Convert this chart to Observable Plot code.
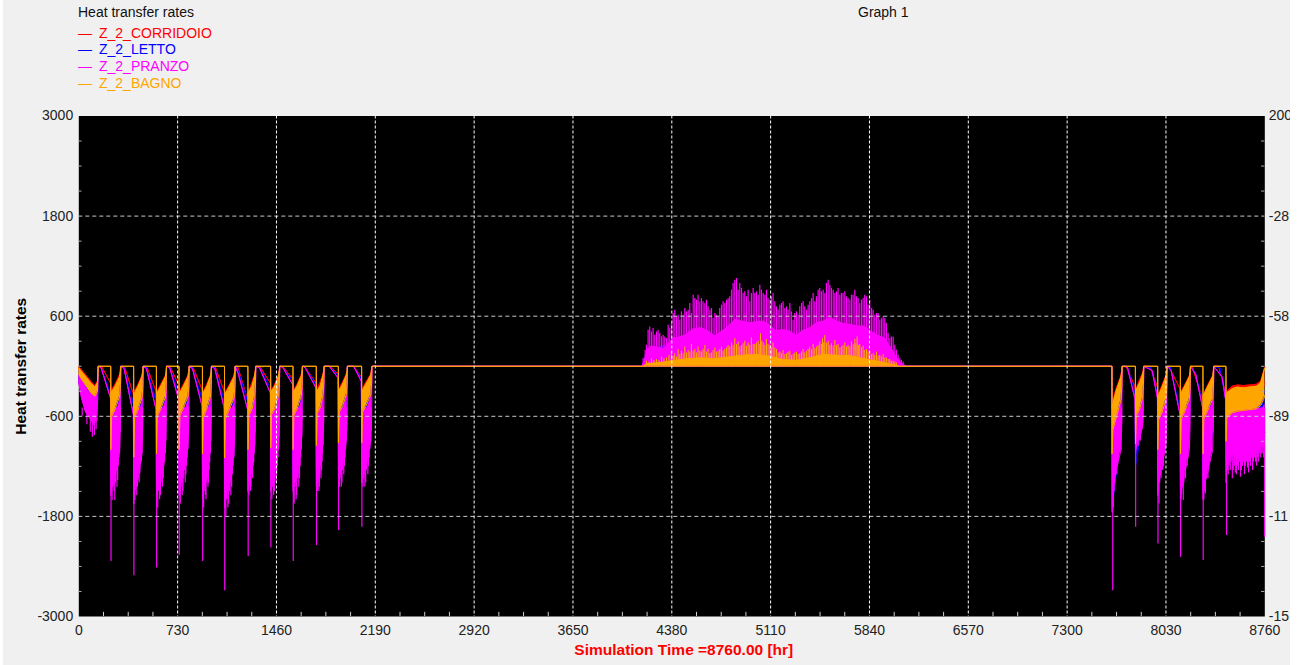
<!DOCTYPE html>
<html><head><meta charset="utf-8">
<script src="https://cdn.jsdelivr.net/npm/d3@7"></script>
<script src="https://cdn.jsdelivr.net/npm/@observablehq/plot@0.6"></script>
<style>
body{margin:0;background:#fff;font-family:"Liberation Sans",Arial,sans-serif;}
#panel{position:absolute;left:3px;top:0;width:1287px;height:665px;background:#f0f0f0;}
#chart{position:absolute;left:0;top:0;width:1290px;height:665px;overflow:hidden;}
.t{position:absolute;white-space:nowrap;font-size:14px;line-height:14px;}
</style></head><body>
<div id="panel"></div>
<div id="chart"></div>
<div id="legend"></div>
<script>
// ---- texts ----
const chartTitle = "Heat transfer rates";
const graphTitle = "Graph 1";
const yTitle = "Heat transfer rates";
const xTitle = "Simulation Time =8760.00 [hr]";
const seriesNames = ["Z_2_CORRIDOIO", "Z_2_LETTO", "Z_2_PRANZO", "Z_2_BAGNO"];
const seriesColors = ["#ff0000", "#0000ff", "#ff00ff", "#ffa500"];

// ---- ticks ----
const xTicks = [0,730,1460,2190,2920,3650,4380,5110,5840,6570,7300,8030,8760];
const yTicks = [3000,1800,600,-600,-1800,-3000];
const rightLabels = ["200","-28","-58","-89","-11","-15"];

// ---- data: [hour, upper, lower] envelopes ----
const corridoio = [
[0,-5,-60],[30,-60,-150],[60,-120,-220],[90,-180,-290],[120,-230,-330],[138,-180,-250],[143,0,0],
[168,0,0],[234,-200,-200],[237,-300,-650],[267,-220,-500],[302,-100,-300],[310,0,0],
[335,0,0],[403,-330,-330],[406,-315,-700],[436,-225,-520],[467,-110,-320],[475,0,0],
[500,0,0],[571,-300,-300],[574,-315,-700],[604,-225,-520],[640,-110,-320],[648,0,0],
[672,0,0],[738,-220,-220],[741,-315,-700],[771,-225,-520],[807,-110,-320],[815,0,0],
[840,0,0],[911,-280,-280],[914,-320,-700],[944,-225,-500],[972,-110,-320],[980,0,0],
[1005,0,0],[1074,-300,-300],[1077,-325,-720],[1110,-230,-520],[1147,-110,-320],[1155,0,0],
[1172,0,0],[1247,-400,-400],[1250,-315,-700],[1275,-215,-500],[1300,-100,-300],[1307,0,0],
[1335,0,0],[1415,-200,-200],[1418,-305,-650],[1448,-215,-480],[1476,-100,-300],[1484,0,0],
[1504,0,0],[1580,-150,-150],[1583,-305,-650],[1613,-215,-480],[1644,-100,-300],[1652,0,0],
[1665,0,0],[1752,-200,-200],[1755,-295,-620],[1780,-205,-460],[1805,-95,-290],[1812,0,0],
[1850,0,0],[1915,-90,-90],[1918,-285,-600],[1948,-195,-450],[1976,-95,-280],[1984,0,0],
[2030,0,0],[2087,-130,-130],[2090,-285,-600],[2120,-195,-450],[2157,-95,-280],[2165,0,0],
[4300,0,0],[4800,20,0],[5000,40,0],[5300,10,0],[5500,40,0],[5700,20,0],[6000,0,0],
[7631,0,0],[7632,-450,-800],[7662,-270,-600],[7698,-115,-320],[7706,0,0],
[7735,0,0],[7802,-250,-250],[7805,-300,-650],[7830,-180,-480],[7858,-85,-300],[7866,0,0],
[7910,0,0],[7967,-250,-250],[7970,-350,-700],[8000,-235,-500],[8030,-115,-320],[8038,0,0],
[8050,0,0],[8134,-270,-270],[8137,-320,-700],[8167,-230,-520],[8203,-115,-320],[8211,0,0],
[8223,0,0],[8301,-400,-400],[8304,-360,-750],[8335,-240,-550],[8375,-115,-320],[8383,0,0],
[8420,0,0],[8471,-330,-330],[8474,-310,-600],[8520,-240,-450],[8560,-225,-420],[8600,-232,-420],
[8650,-225,-400],[8700,-215,-380],[8730,-180,-330],[8750,-70,-250],[8760,-10,-200]
];
const letto = [
[0,-50,-200],[40,-150,-350],[80,-250,-450],[120,-320,-550],[140,-200,-400],[143,0,0],
[160,0,0],[234,-330,-330],[237,-400,-1300],[267,-380,-1100],[302,-220,-750],[310,0,0],
[330,0,0],[403,-450,-450],[406,-450,-1400],[436,-400,-1150],[467,-240,-780],[475,0,0],
[495,0,0],[571,-420,-420],[574,-450,-1400],[604,-400,-1150],[640,-240,-780],[648,0,0],
[668,0,0],[738,-320,-320],[741,-450,-1350],[771,-400,-1100],[807,-240,-760],[815,0,0],
[835,0,0],[911,-400,-400],[914,-450,-1400],[944,-400,-1100],[972,-240,-760],[980,0,0],
[1000,0,0],[1074,-420,-420],[1077,-460,-1450],[1110,-400,-1150],[1147,-240,-780],[1155,0,0],
[1175,-50,-50],[1247,-420,-420],[1250,-450,-1350],[1275,-380,-1050],[1300,-220,-720],[1307,0,0],
[1330,0,0],[1415,-260,-260],[1418,-420,-1300],[1448,-380,-1050],[1476,-220,-720],[1484,0,0],
[1500,0,0],[1580,-180,-180],[1583,-420,-1300],[1613,-380,-1050],[1644,-220,-720],[1652,0,0],
[1665,0,0],[1752,-220,-220],[1755,-420,-1250],[1780,-370,-1000],[1805,-210,-700],[1812,0,0],
[1850,0,0],[1915,-110,-110],[1918,-400,-1200],[1948,-350,-980],[1976,-200,-680],[1984,0,0],
[2030,0,0],[2087,-150,-150],[2090,-400,-1200],[2120,-350,-980],[2157,-200,-680],[2165,0,0],
[4163,0,0],[4180,100,0],[4220,180,0],[4400,300,0],[4600,360,0],[4800,380,0],[5000,400,0],
[5200,330,0],[5400,360,0],[5600,380,0],[5800,330,0],[5950,200,0],[6050,60,0],[6100,0,0],
[7631,0,0],[7632,-550,-1700],[7662,-450,-1300],[7698,-250,-800],[7706,0,0],
[7743,0,0],[7802,-330,-330],[7805,-420,-1200],[7830,-380,-950],[7858,-220,-650],[7866,0,0],
[7920,-20,-20],[7967,-330,-330],[7970,-450,-1400],[8000,-400,-1100],[8030,-240,-760],[8038,0,0],
[8060,0,0],[8134,-520,-520],[8137,-530,-1400],[8167,-420,-1150],[8203,-240,-780],[8211,0,0],
[8248,-80,-80],[8301,-450,-450],[8304,-460,-1400],[8335,-400,-1150],[8375,-240,-780],[8383,0,0],
[8430,-20,-20],[8471,-400,-400],[8474,-450,-1200],[8520,-420,-1000],[8600,-430,-900],[8700,-420,-900],[8760,-300,-800]
];
const pranzo = [
[0,-100,-200],[20,-150,-380],[50,-250,-550],[80,-320,-620],[110,-350,-700],[135,-300,-650],[141,-100,-300],[143,0,0],
[165,-20,-20],[234,-380,-380],[237,-900,-1550],[243,-640,-1450],[267,-600,-1350],[302,-420,-1000],[308,-250,-650],[310,0,0],
[335,-30,-30],[403,-580,-580],[406,-950,-1650],[412,-650,-1500],[436,-620,-1370],[467,-440,-1050],[473,-260,-680],[475,0,0],
[500,-30,-30],[571,-520,-520],[574,-900,-1600],[580,-640,-1450],[604,-600,-1330],[640,-430,-1000],[646,-250,-660],[648,0,0],
[672,-20,-20],[738,-400,-400],[741,-900,-1550],[747,-630,-1400],[771,-600,-1280],[807,-420,-950],[813,-240,-640],[815,0,0],
[840,-30,-30],[911,-480,-480],[914,-900,-1600],[920,-640,-1450],[944,-600,-1330],[972,-430,-1000],[978,-250,-660],[980,0,0],
[1005,-30,-30],[1074,-500,-500],[1077,-950,-1700],[1083,-660,-1550],[1107,-620,-1420],[1147,-440,-1050],[1153,-260,-680],[1155,0,0],
[1180,-100,-100],[1247,-520,-520],[1250,-900,-1500],[1256,-620,-1400],[1280,-580,-1230],[1299,-420,-950],[1305,-230,-620],[1307,0,0],
[1335,-20,-20],[1415,-320,-320],[1418,-880,-1500],[1424,-610,-1370],[1448,-580,-1230],[1476,-410,-950],[1482,-230,-620],[1484,0,0],
[1505,-10,-10],[1580,-220,-220],[1583,-900,-1500],[1589,-620,-1400],[1613,-590,-1280],[1644,-420,-950],[1650,-230,-620],[1652,0,0],
[1670,-10,-10],[1752,-260,-260],[1755,-850,-1450],[1761,-600,-1330],[1785,-560,-1170],[1804,-400,-920],[1810,-220,-600],[1812,0,0],
[1850,0,0],[1915,-140,-140],[1918,-820,-1400],[1924,-580,-1300],[1948,-540,-1150],[1976,-380,-900],[1982,-210,-580],[1984,0,0],
[2030,0,0],[2087,-180,-180],[2090,-820,-1400],[2096,-580,-1300],[2120,-540,-1150],[2157,-380,-900],[2163,-210,-580],[2165,0,0],
[4160,0,0],[4175,50,0],[4200,200,0],[4230,240,0],[4270,230,0],[4320,210,0],[4350,260,0],[4390,340,0],[4440,350,0],
[4490,380,0],[4540,450,0],[4600,460,0],[4650,420,0],[4700,360,0],[4750,420,0],[4800,480,0],[4850,560,0],[4900,540,0],
[4950,520,0],[5000,530,0],[5050,540,0],[5100,500,0],[5150,420,0],[5200,440,0],[5250,420,0],[5300,370,0],[5350,430,0],
[5400,460,0],[5450,520,0],[5500,540,0],[5550,580,0],[5600,540,0],[5650,510,0],[5700,500,0],[5750,480,0],[5800,480,0],
[5850,420,0],[5900,370,0],[5950,340,0],[6000,220,0],[6040,100,0],[6080,30,0],[6110,0,0],
[7631,0,0],[7632,-1050,-1750],[7638,-720,-1500],[7662,-650,-1250],[7698,-450,-1000],[7704,-260,-650],[7706,0,0],
[7745,-10,-10],[7802,-400,-400],[7805,-930,-1050],[7811,-600,-920],[7835,-560,-860],[7858,-400,-700],[7864,-230,-500],[7866,0,0],
[7928,-50,-50],[7967,-380,-380],[7970,-1000,-1550],[7976,-650,-1400],[8000,-620,-1200],[8030,-430,-950],[8036,-250,-660],[8038,0,0],
[8068,-50,-50],[8134,-580,-580],[8137,-1050,-1600],[8143,-660,-1500],[8167,-620,-1300],[8203,-430,-1000],[8209,-250,-640],[8211,0,0],
[8250,-100,-100],[8301,-500,-500],[8304,-1050,-1600],[8310,-660,-1450],[8334,-620,-1300],[8375,-430,-1000],[8381,-250,-640],[8383,0,0],
[8445,-130,-130],[8471,-410,-410],[8474,-900,-1400],[8480,-620,-1200],[8520,-580,-1050],[8560,-580,-1100],[8600,-580,-1080],
[8640,-570,-1050],[8680,-560,-1050],[8720,-540,-1000],[8745,-500,-950],[8760,-460,-1000]
];
const bagno = [
[0,-20,-100],[30,-80,-180],[60,-140,-250],[90,-200,-320],[120,-250,-360],[138,-200,-300],[143,0,0],
[236,0,0],[237,-330,-1000],[243,-310,-600],[267,-250,-520],[302,-130,-360],[308,-60,-220],[310,0,0],
[405,0,0],[406,-340,-1090],[412,-320,-610],[436,-250,-530],[467,-130,-380],[473,-60,-230],[475,0,0],
[573,0,0],[574,-340,-1050],[580,-320,-600],[604,-250,-520],[640,-130,-370],[646,-60,-220],[648,0,0],
[740,0,0],[741,-340,-1000],[747,-320,-590],[771,-250,-510],[807,-130,-360],[813,-60,-220],[815,0,0],
[913,0,0],[914,-350,-1050],[920,-320,-610],[944,-250,-520],[972,-130,-370],[978,-60,-220],[980,0,0],
[1076,0,0],[1077,-350,-1100],[1083,-330,-630],[1107,-260,-540],[1147,-130,-380],[1153,-60,-230],[1155,0,0],
[1249,0,0],[1250,-340,-1000],[1256,-310,-590],[1280,-240,-510],[1299,-120,-350],[1305,-50,-210],[1307,0,0],
[1417,0,0],[1418,-330,-980],[1424,-300,-580],[1448,-240,-510],[1476,-120,-350],[1482,-50,-210],[1484,0,0],
[1582,0,0],[1583,-330,-1000],[1589,-300,-590],[1613,-240,-510],[1644,-120,-350],[1650,-50,-210],[1652,0,0],
[1754,0,0],[1755,-320,-950],[1761,-300,-570],[1785,-230,-490],[1804,-110,-340],[1810,-50,-200],[1812,0,0],
[1917,0,0],[1918,-310,-920],[1924,-290,-550],[1948,-220,-480],[1976,-110,-340],[1982,-50,-200],[1984,0,0],
[2089,0,0],[2090,-310,-920],[2096,-290,-550],[2120,-220,-480],[2157,-110,-340],[2163,-50,-200],[2165,0,0],
[4165,0,0],[4200,30,0],[4300,45,0],[4400,70,0],[4500,90,0],[4600,100,0],[4700,90,0],[4800,110,0],[4900,130,0],
[5000,140,0],[5100,120,0],[5200,80,0],[5300,70,0],[5400,100,0],[5500,140,0],[5600,130,0],[5700,125,0],[5800,90,0],
[5900,60,0],[6000,25,0],[6060,0,0],
[7631,0,0],[7632,-500,-1050],[7638,-450,-760],[7662,-300,-620],[7698,-130,-400],[7704,-60,-240],[7706,0,0],
[7804,0,0],[7805,-330,-930],[7811,-280,-600],[7835,-200,-520],[7858,-100,-370],[7864,-50,-220],[7866,0,0],
[7969,0,0],[7970,-380,-1000],[7976,-350,-640],[8000,-260,-560],[8030,-130,-390],[8036,-60,-230],[8038,0,0],
[8136,0,0],[8137,-350,-1050],[8143,-320,-630],[8167,-250,-550],[8203,-130,-390],[8209,-60,-230],[8211,0,0],
[8303,0,0],[8304,-380,-1050],[8310,-340,-630],[8334,-260,-550],[8375,-130,-390],[8381,-60,-230],[8383,0,0],
[8473,0,0],[8474,-350,-900],[8480,-320,-620],[8520,-270,-560],[8560,-250,-540],[8600,-260,-530],[8650,-250,-520],
[8700,-240,-510],[8730,-200,-470],[8750,-80,-400],[8760,-20,-350]
];
// spikes [hour, extreme value]
const pranzoHeatSpikes = [
[25,-600],[60,-700],[85,-790],[100,-850],[115,-830],[128,-760],
[238,-2340],[242,-1500],[246,-1610],[250,-1450],[255,-1330],[260,-1500],[266,-1610],[271,-1400],[276,-1250],[282,-1450],[287,-1370],[292,-1200],[297,-1100],[301,-1050],[305,-800],
[407,-2510],[410,-1550],[414,-1610],[419,-1450],[423,-1370],[428,-1550],[433,-1450],[437,-1350],[441,-1250],[446,-1400],[451,-1290],[456,-1150],[461,-1150],[466,-1050],[470,-900],
[575,-2420],[579,-1600],[583,-1700],[588,-1500],[592,-1450],[597,-1600],[603,-1550],[608,-1400],[613,-1300],[618,-1450],[624,-1350],[629,-1200],[634,-1150],[639,-1050],[643,-900],
[742,-2270],[746,-1500],[750,-1650],[755,-1450],[759,-1400],[764,-1550],[770,-1500],[775,-1350],[780,-1250],[786,-1400],[791,-1300],[796,-1200],[801,-1100],[806,-1000],[810,-850],
[915,-2340],[918,-1600],[922,-1700],[926,-1500],[930,-1450],[935,-1550],[940,-1600],[945,-1400],[949,-1350],[954,-1450],[958,-1400],[963,-1250],[967,-1150],[971,-1050],[975,-900],
[1078,-2690],[1082,-1700],[1086,-1800],[1091,-1600],[1096,-1500],[1101,-1700],[1107,-1650],[1112,-1500],[1118,-1400],[1123,-1550],[1129,-1450],[1134,-1300],[1140,-1200],[1145,-1100],[1150,-950],
[1251,-2280],[1254,-1500],[1257,-1550],[1260,-1420],[1264,-1370],[1268,-1500],[1272,-1450],[1276,-1300],[1280,-1250],[1284,-1350],[1288,-1200],[1292,-1150],[1295,-1050],[1299,-950],[1302,-800],
[1419,-2180],[1422,-1500],[1426,-1600],[1430,-1450],[1434,-1400],[1439,-1550],[1444,-1500],[1448,-1350],[1453,-1250],[1457,-1400],[1462,-1300],[1467,-1200],[1471,-1100],[1475,-1000],[1479,-850],
[1584,-2340],[1587,-1550],[1591,-1650],[1596,-1450],[1600,-1400],[1605,-1600],[1610,-1550],[1615,-1350],[1620,-1300],[1625,-1450],[1630,-1350],[1635,-1200],[1639,-1100],[1643,-1000],[1647,-850],
[1756,-2150],[1759,-1450],[1762,-1500],[1766,-1400],[1769,-1350],[1773,-1500],[1777,-1450],[1781,-1300],[1785,-1200],[1789,-1350],[1793,-1250],[1797,-1150],[1800,-1050],[1804,-950],[1807,-800],
[1919,-1970],[1922,-1400],[1926,-1450],[1930,-1350],[1934,-1300],[1939,-1450],[1944,-1400],[1948,-1250],[1953,-1150],[1957,-1300],[1962,-1200],[1967,-1100],[1971,-1000],[1975,-900],[1979,-780],
[2091,-1930],[2095,-1400],[2099,-1450],[2104,-1350],[2108,-1300],[2113,-1450],[2119,-1400],[2124,-1250],[2129,-1150],[2135,-1300],[2140,-1200],[2145,-1100],[2150,-1000],[2155,-900],[2160,-780],
[7637,-2690],[7642,-1700],[7647,-1500],[7652,-1410],[7657,-1300],[7662,-1170],[7667,-1300],[7672,-1200],[7677,-1130],[7681,-1050],[7686,-890],[7691,-1000],[7696,-1010],[7702,-700],
[7806,-1930],[7809,-1000],[7812,-970],[7816,-950],[7820,-930],[7825,-960],[7830,-890],[7835,-870],[7840,-900],[7845,-820],[7849,-730],[7854,-760],[7858,-700],
[7971,-2130],[7975,-1500],[7979,-1650],[7984,-1400],[7989,-1250],[7994,-1350],[8000,-1130],[8006,-1250],[8012,-1200],[8017,-1050],[8022,-930],[8027,-950],[8033,-730],
[8138,-2290],[8142,-1600],[8146,-1530],[8152,-1450],[8158,-1610],[8162,-1400],[8167,-1250],[8174,-1350],[8182,-1050],[8187,-1200],[8192,-1100],[8197,-950],[8201,-800],
[8305,-2330],[8310,-1600],[8315,-1500],[8321,-1530],[8327,-1350],[8333,-1250],[8340,-1350],[8346,-1250],[8352,-1150],[8358,-1050],[8364,-1000],[8370,-730],[8378,-800],
[8478,-2030],[8484,-1250],[8490,-1300],[8497,-1200],[8505,-1250],[8512,-1150],[8520,-1350],[8527,-1250],[8535,-1200],[8542,-1280],[8550,-1300],[8557,-1200],
[8565,-1250],[8572,-1150],[8580,-1330],[8587,-1250],[8595,-1200],[8602,-1150],[8610,-1300],[8617,-1200],[8625,-1150],[8632,-1220],
[8640,-1280],[8647,-1150],[8655,-1200],[8662,-1100],[8670,-1250],[8677,-1150],[8685,-1100],[8692,-1150],[8700,-1200],[8707,-1100],
[8715,-1150],[8722,-1050],[8730,-1100],[8737,-1050],[8745,-1050],[8752,-1100],[8759,-2050]
];
const pranzoCoolSpikes = [
[4168,92],[4183,192],[4193,252],[4205,432],[4217,472],[4230,412],[4242,452],[4254,372],[4267,412],[4279,432],
[4291,392],[4304,352],[4316,372],[4328,352],[4341,332],[4353,492],[4365,452],[4377,512],[4390,632],[4402,672],
[4414,592],[4427,612],[4439,552],[4451,652],[4464,612],[4476,692],[4488,652],[4501,672],[4513,752],[4525,632],
[4538,852],[4550,812],[4562,792],[4574,852],[4587,772],[4599,812],[4611,772],[4624,752],[4636,792],[4648,712],
[4661,672],[4673,692],[4685,572],[4698,632],[4710,612],[4722,592],[4734,692],[4747,732],[4759,772],[4771,752],
[4784,792],[4796,812],[4808,832],[4821,912],[4833,992],[4845,1032],[4858,1052],[4870,912],[4882,992],[4895,932],
[4907,872],[4919,892],[4931,832],[4944,912],[4956,772],[4968,872],[4981,932],[4993,872],[5005,892],[5018,852],
[5030,972],[5042,912],[5055,872],[5067,852],[5079,912],[5091,812],[5104,792],[5116,832],[5128,872],[5141,772],
[5153,712],[5165,672],[5178,732],[5190,752],[5202,772],[5215,692],[5227,712],[5239,672],[5252,752],[5264,652],
[5276,552],[5288,632],[5301,652],[5313,612],[5325,712],[5338,752],[5350,772],[5362,712],[5375,672],[5387,732],
[5399,772],[5412,812],[5424,872],[5436,772],[5448,832],[5461,912],[5473,932],[5485,892],[5498,912],[5510,872],
[5522,992],[5535,1032],[5547,972],[5559,932],[5572,912],[5584,872],[5596,892],[5608,932],[5621,852],[5633,872],
[5645,872],[5658,892],[5670,832],[5682,812],[5695,792],[5707,852],[5719,852],[5732,912],[5744,832],[5756,812],
[5768,752],[5781,792],[5793,812],[5805,852],[5818,832],[5830,732],[5842,792],[5855,692],[5867,672],[5879,612],
[5892,632],[5904,632],[5916,552],[5929,572],[5941,592],[5953,572],[5965,512],[5978,392],[5990,332],[6002,352],
[6015,352],[6027,252],[6039,192],[6052,132],[6064,92],[6076,72],[6089,52],[6101,12]
];
const bagnoCoolSpikes = [
[4193,60],[4212,50],[4230,90],[4248,70],[4267,80],[4285,70],[4304,110],[4322,90],[4341,100],[4359,130],[4377,170],[4390,120],
[4402,150],[4415,110],[4427,200],[4439,140],[4451,180],[4464,150],[4476,230],[4488,160],[4501,190],[4513,170],[4525,260],[4538,180],
[4550,200],[4562,160],[4574,230],[4587,180],[4599,170],[4611,200],[4624,250],[4636,170],[4648,200],[4661,150],[4673,160],[4685,190],
[4698,220],[4710,170],[4722,180],[4734,200],[4747,230],[4759,180],[4771,200],[4784,220],[4796,250],[4808,230],[4821,280],[4833,250],
[4845,330],[4858,260],[4870,290],[4882,230],[4895,250],[4907,270],[4919,300],[4931,240],[4944,280],[4956,250],[4968,340],[4981,260],
[4993,260],[5005,280],[5018,300],[5030,260],[5035,390],[5045,300],[5055,280],[5067,250],[5079,320],[5091,260],[5104,250],[5116,220],
[5128,280],[5141,220],[5153,200],[5165,160],[5178,170],[5190,150],[5202,190],[5215,140],[5227,150],[5239,170],[5252,180],[5264,130],
[5276,140],[5288,160],[5301,170],[5313,140],[5325,150],[5338,170],[5350,200],[5362,160],[5375,180],[5387,200],[5399,230],[5412,200],
[5424,260],[5436,210],[5448,230],[5461,250],[5473,290],[5485,260],[5493,330],[5502,280],[5510,370],[5522,280],[5535,300],[5547,250],
[5559,270],[5572,240],[5584,310],[5596,250],[5608,260],[5621,220],[5633,230],[5645,250],[5658,280],[5670,230],[5682,250],[5695,230],
[5707,290],[5720,260],[5732,320],[5740,270],[5749,350],[5758,250],[5768,260],[5781,220],[5793,240],[5805,190],[5818,200],[5830,170],
[5842,180],[5855,140],[5867,150],[5879,130],[5892,170],[5904,120],[5916,130],[5929,110],[5941,140],[5953,100],[5965,100],[5978,80],
[5990,80],[6002,60],[6015,60],[6027,50],[6039,40]
];

// ---- build ----
const bands = [corridoio, letto, pranzo, bagno];
const X = d => d[0], HI = d => d[1], LO = d => d[2];
const yMinor = d3.range(-3000, 3001, 300).filter(v => !yTicks.includes(v));
const xMinor = d3.range(0, 8761, 182.5).filter(v => !xTicks.includes(v));
const rightMap = new Map(yTicks.map((v, i) => [v, rightLabels[i]]));

function bandMarks(i) {
  const c = seriesColors[i], B = bands[i];
  return [
    Plot.areaY(B, {x: X, y1: LO, y2: HI, fill: c}),
    Plot.line(B, {x: X, y: HI, stroke: c, strokeWidth: 1}),
    Plot.line(B, {x: X, y: LO, stroke: c, strokeWidth: 1})
  ];
}

const font = '"Liberation Sans", Arial, sans-serif';
const chart = Plot.plot({
  width: 1290, height: 665,
  marginLeft: 78.3, marginRight: 25.7, marginTop: 115.5, marginBottom: 49,
  x: {domain: [0, 8760]},
  y: {domain: [-3000, 3000]},
  style: {background: "transparent", fontFamily: font, fontSize: "14px", color: "#222", overflow: "hidden"},
  marks: [
    Plot.frame({fill: "#000"}),
    ...bandMarks(0),
    ...bandMarks(1),
    ...bandMarks(2),
    Plot.ruleX(pranzoHeatSpikes, {x: X, y1: () => -500, y2: d => d[1], stroke: seriesColors[2], strokeWidth: 1.2}),
    Plot.ruleX(pranzoCoolSpikes, {x: X, y1: () => 0, y2: d => d[1], stroke: seriesColors[2], strokeWidth: 1.2}),
    ...bandMarks(3),
    Plot.ruleX(bagnoCoolSpikes, {x: X, y1: () => 0, y2: d => d[1], stroke: seriesColors[3], strokeWidth: 1.1}),
    Plot.ruleY(yTicks.slice(1, -1), {stroke: "#c8c8c8", strokeDasharray: "4,3", strokeWidth: 1}),
    Plot.ruleX(xTicks.slice(1, -1), {stroke: "#ffffff", strokeDasharray: "3,2", strokeWidth: 1}),
    Plot.ruleY(yMinor, {x1: () => 0, x2: () => 24, stroke: "#aaa"}),
    Plot.ruleY(yMinor, {x1: () => 8736, x2: () => 8760, stroke: "#aaa"}),
    Plot.ruleX(xMinor, {y1: () => -3000, y2: () => -2950, stroke: "#ccc"}),
    Plot.axisX({ticks: xTicks, tickSize: 0, tickPadding: 9, label: null, tickFormat: d => String(d), fontSize: 14}),
    Plot.axisY({ticks: yTicks, tickSize: 0, tickPadding: 5.6, label: null, tickFormat: d => String(d), fontSize: 14}),
    Plot.axisY({anchor: "right", ticks: yTicks, tickSize: 0, tickPadding: 4, label: null, tickFormat: d => rightMap.get(d), fontSize: 14}),
    Plot.text([yTitle], {frameAnchor: "left", textAnchor: "middle", dx: -58, rotate: -90, text: d => d, fontWeight: "bold", fontSize: 15.5, fill: "#000"}),
    Plot.text([xTitle], {frameAnchor: "bottom", dx: 12, dy: 38, text: d => d, fontWeight: "bold", fontSize: 15.5, fill: "#ff0000"})
  ]
});
document.getElementById("chart").appendChild(chart);

// ---- legend / titles (HTML over the svg's top margin) ----
const leg = document.getElementById("legend");
function addText(txt, left, top, color) {
  const d = document.createElement("div");
  d.className = "t"; d.textContent = txt;
  d.style.left = left + "px"; d.style.top = top + "px"; d.style.color = color;
  leg.appendChild(d);
}
addText(chartTitle, 78, 5, "#111");
addText(graphTitle, 858, 5, "#111");
seriesNames.forEach((n, i) => {
  const top = 25.5 + i * 16.67;
  addText("\u2014", 78, top, seriesColors[i]);
  addText(n, 99, top, seriesColors[i]);
});
</script>
</body></html>
